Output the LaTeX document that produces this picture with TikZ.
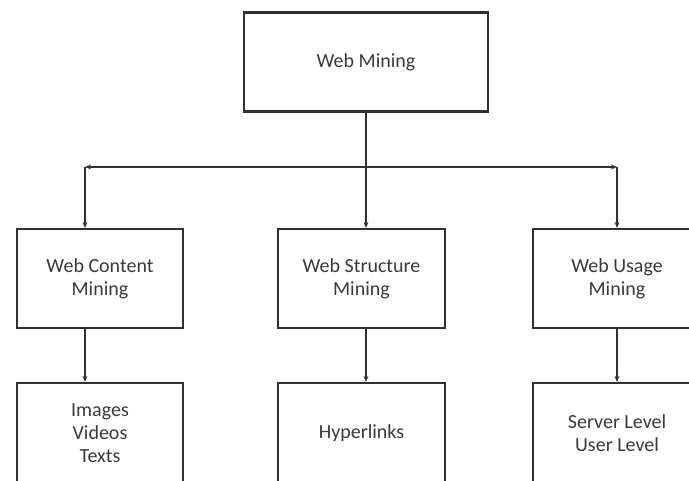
\documentclass[tikz,border=0pt]{standalone}
\usepackage{fontspec}
\setmainfont{Carlito}
\usetikzlibrary{arrows.meta}
\definecolor{txtgray}{HTML}{3A3A3A}
\definecolor{linegray}{HTML}{303030}
\tikzset{
  box/.style={draw=linegray, line width=2.2pt, fill=white, inner sep=0pt,
    align=center, text=txtgray, font=\fontsize{20}{23}\selectfont},
  conn/.style={draw=linegray, line width=1.3pt},
  tip/.style={-{Stealth[length=6pt,width=5pt]}},
  tips/.style={{Stealth[length=6pt,width=5pt]}-{Stealth[length=6pt,width=5pt]}}
}
\begin{document}
\begin{tikzpicture}[x=1pt,y=-1pt]
\useasboundingbox (0,0) rectangle (689,481);
\clip (0,0) rectangle (689,481);
\fill[white] (0,0) rectangle (689,481);
% top
\node[box, minimum width=244pt, minimum height=99pt] (wm) at (366,62) {Web Mining};
% middle row
\node[box, minimum width=166pt, minimum height=99pt] (wcm) at (100,278.5) {Web Content\\Mining};
\node[box, minimum width=167pt, minimum height=99pt] (wsm) at (361.5,278.5) {Web Structure\\Mining};
\node[box, minimum width=168pt, minimum height=99pt] (wum) at (617,278.5) {Web Usage\\Mining};
% bottom row
\node[box, minimum width=166pt, minimum height=100pt] (ivt) at (100,433) {Images\\Videos\\Texts};
\node[box, minimum width=167pt, minimum height=100pt] (hyp) at (361.5,433) {Hyperlinks};
\node[box, minimum width=168pt, minimum height=100pt] (sul) at (617,433) {Server Level\\User Level};
% connectors
\coordinate (hc) at (366,167);
\coordinate (hl) at (85,167);
\coordinate (hr) at (617,167);
\draw[conn] (wm.south -| hc) -- (hc);
\draw[conn, tips] (hl) -- (hr);
\draw[conn, tip] (hl) -- (hl |- wcm.north);
\draw[conn, tip] (hc) -- (hc |- wsm.north);
\draw[conn, tip] (hr) -- (hr |- wum.north);
\draw[conn, tip] (hl |- wcm.south) -- (hl |- ivt.north);
\draw[conn, tip] (hc |- wsm.south) -- (hc |- hyp.north);
\draw[conn, tip] (hr |- wum.south) -- (hr |- sul.north);
\end{tikzpicture}
\end{document}
